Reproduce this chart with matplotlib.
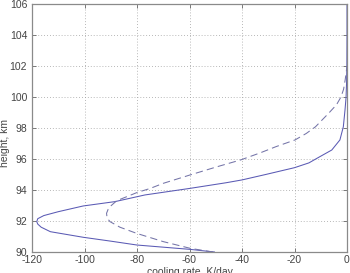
import matplotlib
matplotlib.use("Agg")
import matplotlib.pyplot as plt

# solid curve: height (km) and cooling rate (K/day)
solid_height = [90.0, 90.17, 90.45, 90.7, 90.95, 91.31, 91.6, 91.8, 91.96, 92.15, 92.35, 92.6,
                92.97, 93.25, 93.68, 94.1, 94.47, 94.65, 95.0, 95.44, 95.75, 96.04, 96.58,
                97.23, 98.08, 99.16, 100.0, 101.0, 102.0, 104.0, 106.0]
solid_rate = [-50.5, -59.8, -80, -90, -100.5, -113, -116.5, -117.8, -118.2, -117.8, -115.5, -110,
              -100.5, -88.4, -77, -60, -46, -40, -31, -20, -14.5, -11.5, -5.8,
              -2.7, -1.4, -0.76, -0.35, -0.15, -0.05, 0, 0]

# dashed curve
dashed_height = [90.0, 90.06, 90.24, 90.67, 91.2, 91.6, 91.96, 92.2, 92.5, 92.75, 93.0, 93.31,
                 93.83, 94.1, 94.43, 94.97, 95.5, 95.94, 96.4, 96.8, 97.23, 97.65, 98.08,
                 98.95, 99.5, 100.0, 100.5, 101.1, 101.6, 102.0]
dashed_rate = [-51, -53.4, -59.8, -70, -80.1, -86.5, -90.3, -91.4, -91.6, -91, -89.8, -87.7,
               -80.1, -75, -70, -59.8, -49.5, -40.5, -33, -27, -19.8, -15.5, -12,
               -7, -4, -2.3, -1.3, -0.7, -0.3, 0]

x_ticks = [-120, -100, -80, -60, -40, -20, 0]
y_ticks = [90, 92, 94, 96, 98, 100, 102, 104, 106]

plt.rcParams['font.family'] = ['Liberation Sans', 'DejaVu Sans']
plt.rcParams['axes.unicode_minus'] = False

fig = plt.figure(figsize=(3.5, 2.73), dpi=100)
ax = fig.add_axes([32/350, 21/273, 315/350, 248/273])

ax.plot(solid_rate, solid_height, color='#5a5ab4', lw=0.75)
ax.plot(dashed_rate, dashed_height, color='#7474a8', lw=0.75, linestyle=(0, (7, 4)))

ax.set_xlim(-120, 0)
ax.set_ylim(90, 106)
ax.set_xticks(x_ticks)
ax.set_yticks(y_ticks)
ax.grid(True, linestyle=(0, (1, 2.5)), color='#a0a0a0', linewidth=0.6)
ax.tick_params(direction='in', length=3, width=0.6, color='#666666',
               labelsize=7.5, labelcolor='#444444', top=True, right=True)
ax.tick_params(axis='y', pad=3.5)
ax.tick_params(axis='x', pad=2)
for s in ax.spines.values():
    s.set_color('#8a8a8a')
    s.set_linewidth(0.9)

fig.text(190/350, -2/273, 'cooling rate, K/day', fontsize=7.5, color='#444444',
         ha='center', va='baseline')
fig.text(5/350, 130/273, 'height, km', fontsize=7.5, color='#444444',
         ha='center', va='center', rotation=90)

fig.savefig('out.png', dpi=100)
